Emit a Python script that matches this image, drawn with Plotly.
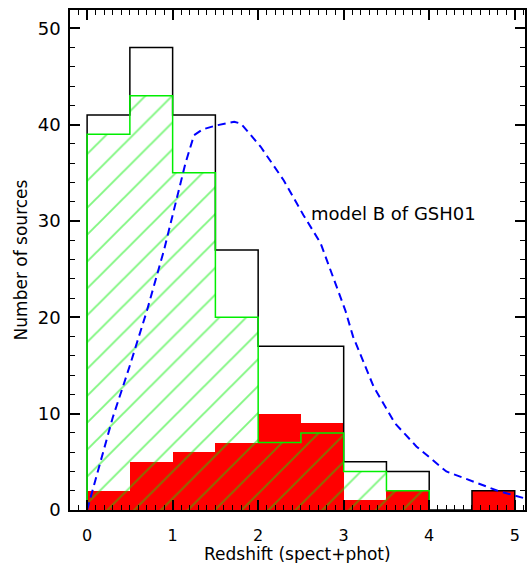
import plotly.graph_objects as go

# ---- data ----
bin_edges = [0.0, 0.5, 1.0, 1.5, 2.0, 2.5, 3.0, 3.5, 4.0, 4.5, 5.0]
total_counts = [41, 48, 41, 27, 17, 17, 5, 4, 0, 2]
hatched_counts = [39, 43, 35, 20, 7, 8, 4, 2]          # bins 0..4
filled_counts = [2, 5, 6, 7, 10, 9, 1, 2, 0, 2]

model_z = [0.0, 0.15, 0.3, 0.5, 0.7, 0.9, 1.05, 1.15, 1.25, 1.35, 1.5, 1.72, 1.8,
           2.03, 2.3, 2.53, 2.73, 2.92, 3.02, 3.11, 3.35, 3.6, 3.85, 4.2, 4.55, 4.8, 5.12]
model_n = [0.0, 4.8, 9.6, 15.0, 20.7, 27.0, 32.5, 36.0, 38.9, 39.5, 39.9, 40.3, 40.1,
           37.7, 34.2, 30.6, 27.7, 23.2, 20.7, 18.0, 12.8, 9.0, 6.6, 4.0, 2.8, 2.0, 1.2]

model_label = "model B of GSH01"
x_title = "Redshift (spect+phot)"
y_title = "Number of sources"


def step_xy(edges, counts):
    n = len(counts)
    xs = [edges[0]] + edges[:n] + [edges[n]]
    ys = [0] + list(counts) + [0]
    return xs, ys


centers = [(bin_edges[i] + bin_edges[i + 1]) / 2 for i in range(len(bin_edges) - 1)]
widths = [bin_edges[i + 1] - bin_edges[i] for i in range(len(bin_edges) - 1)]

GREEN = "#00ee00"
FONT = "DejaVu Sans"

fig = go.Figure()

# red filled histogram
fig.add_trace(go.Bar(x=centers, y=filled_counts, width=widths,
                     marker=dict(color="#ff0000", line=dict(width=0)),
                     showlegend=False))

# green hatched histogram
nh = len(hatched_counts)
fig.add_trace(go.Bar(x=centers[:nh], y=hatched_counts, width=widths[:nh],
                     marker=dict(color="rgba(0,0,0,0)", line=dict(width=0),
                                 pattern=dict(shape="/", fgcolor=GREEN,
                                              bgcolor="rgba(0,0,0,0)",
                                              size=19, solidity=0.1,
                                              fillmode="overlay")),
                     showlegend=False))

# black total outline
bx, by = step_xy(bin_edges, total_counts)
fig.add_trace(go.Scatter(x=bx, y=by, mode="lines", line_shape="hv",
                         line=dict(color="black", width=1.5), showlegend=False))

# green outline
gx, gy = step_xy(bin_edges, hatched_counts)
fig.add_trace(go.Scatter(x=gx, y=gy, mode="lines", line_shape="hv",
                         line=dict(color=GREEN, width=1.5), showlegend=False))

# model curve
fig.add_trace(go.Scatter(x=model_z, y=model_n, mode="lines",
                         line=dict(color="#0000ff", width=2, dash="8px,5px"),
                         showlegend=False))

fig.add_annotation(x=2.6, y=30.8, text=model_label, showarrow=False,
                   xanchor="left", yanchor="middle",
                   font=dict(family=FONT, size=18, color="black"))

# x-axis title placed below tick labels
fig.add_annotation(x=0.5, y=0, xref="paper", yref="paper", yshift=-44,
                   text=x_title, showarrow=False, xanchor="center", yanchor="middle",
                   font=dict(family=FONT, size=17, color="black"))

axis_common = dict(showgrid=False, zeroline=False, showline=True, linecolor="black",
                   linewidth=1.5, mirror="ticks", ticks="inside", tickcolor="black",
                   tickwidth=1.5, ticklen=10, automargin=False)

fig.update_xaxes(range=[-0.2, 5.12], tick0=0, dtick=1, ticklabelstandoff=10,
                 tickfont=dict(family=FONT, size=16, color="black"),
                 minor=dict(ticks="inside", dtick=0.1, ticklen=5, tickcolor="black",
                            tickwidth=1),
                 **axis_common)
fig.update_yaxes(range=[0, 51.9], tick0=0, dtick=10, ticklabelstandoff=4,
                 tickfont=dict(family=FONT, size=18, color="black"),
                 minor=dict(ticks="inside", dtick=2, ticklen=5, tickcolor="black",
                            tickwidth=1),
                 title=dict(text=y_title, standoff=6,
                            font=dict(family=FONT, size=17, color="black")),
                 **axis_common)

fig.update_layout(width=528, height=563, margin=dict(l=70, r=3, t=10, b=53),
                  plot_bgcolor="white", paper_bgcolor="white", barmode="overlay",
                  bargap=0)

fig.write_html("out.html")
